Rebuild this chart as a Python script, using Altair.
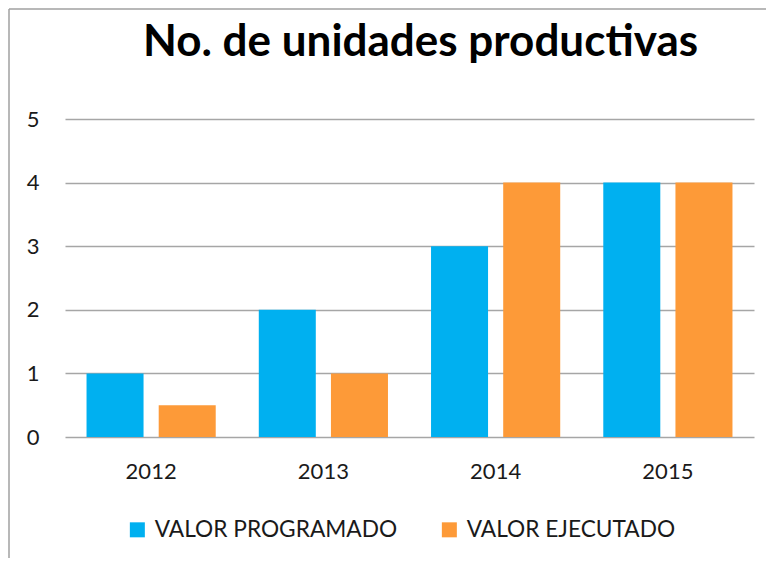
import altair as alt
import pandas as pd

years = ["2012", "2013", "2014", "2015"]
programado = [1, 2, 3, 4]
ejecutado = [0.5, 1, 4, 4]
series = ["VALOR PROGRAMADO", "VALOR EJECUTADO"]
colors = ["#00B0F0", "#FD9A38"]
y_ticks = [0, 1, 2, 3, 4, 5]

rows = []
for i, yr in enumerate(years):
    rows.append({"year": yr, "serie": series[0], "value": programado[i]})
    rows.append({"year": yr, "serie": series[1], "value": ejecutado[i]})
df = pd.DataFrame(rows)

FONT = "Lato"

bars = alt.Chart(df).mark_bar().encode(
    x=alt.X("year:N", title=None, sort=years,
            scale=alt.Scale(paddingInner=0.25, paddingOuter=0.125),
            axis=alt.Axis(labelAngle=0, domain=False, ticks=False, labelPadding=24,
                          labelFontSize=22, labelFont=FONT, labelColor="#1a1a1a")),
    xOffset=alt.XOffset("serie:N", sort=series,
                        scale=alt.Scale(paddingInner=0.21, paddingOuter=0)),
    y=alt.Y("value:Q", title=None,
            scale=alt.Scale(domain=[0, 5], nice=False),
            axis=alt.Axis(values=y_ticks, domain=False, ticks=False, labelPadding=26,
                          labelFontSize=22, labelFont=FONT, labelColor="#1a1a1a",
                          gridColor="#A6A6A6", gridWidth=1.3)),
    color=alt.Color("serie:N", sort=series,
                    scale=alt.Scale(domain=series, range=colors),
                    legend=alt.Legend(title=None, orient="none", direction="horizontal",
                                      legendX=61, legendY=399, symbolType="square",
                                      symbolSize=225, symbolStrokeWidth=0,
                                      labelFontSize=22.7, labelFont=FONT, labelColor="#1a1a1a",
                                      labelOffset=6, columnPadding=40, padding=0,
                                      labelLimit=400)),
)

frame = alt.Chart(alt.Data(values=[{}])).mark_rule(color="#A0A0A0", strokeWidth=1.5).encode(
    x=alt.value(-56), y=alt.value(-110), y2=alt.value(460)
)
frame_top = alt.Chart(alt.Data(values=[{}])).mark_rule(color="#A0A0A0", strokeWidth=1.5).encode(
    x=alt.value(-56), x2=alt.value(720), y=alt.value(-110)
)

chart = alt.layer(bars, frame, frame_top).properties(
    width=689, height=318,
    autosize=alt.AutoSizeParams(type="none"),
    padding={"left": 57, "top": 111, "right": 12, "bottom": 121},
    title=alt.TitleParams("No. de unidades productivas", font=FONT, fontSize=44,
                          fontWeight="bold", color="#000000", anchor="middle",
                          baseline="alphabetic", offset=-92, dx=11),
).configure_view(stroke=None)

chart.save("out.html", embed_options={"renderer": "svg", "actions": False})
